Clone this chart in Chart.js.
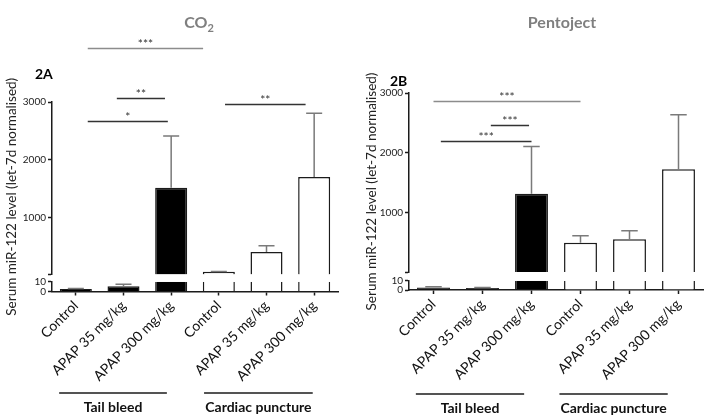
<!DOCTYPE html>
<html>
<head>
<meta charset="utf-8">
<script src="https://cdn.jsdelivr.net/npm/chart.js@4.4.0/dist/chart.umd.min.js"></script>
<style>
  html, body { margin: 0; padding: 0; background: #fff; }
  #wrap { position: relative; width: 708px; height: 415px; overflow: hidden; }
  canvas { position: absolute; top: 0; }
</style>
</head>
<body>
<div id="wrap">
  <canvas id="chartA" width="354" height="415" style="left:0"></canvas>
  <canvas id="chartB" width="354" height="415" style="left:354px"></canvas>
</div>
<script>
// categories (same for both panels)
const categories = ['Control', 'APAP 35 mg/kg', 'APAP 300 mg/kg', 'Control', 'APAP 35 mg/kg', 'APAP 300 mg/kg'];
const groups = ['Tail bleed', 'Cardiac puncture'];
const filled = [true, true, true, false, false, false];
const yTitle = 'Serum miR-122 level (let-7d normalised)';

// CO2 panel (2A): mean and top of error bar
const co2Mean = [2.5, 5.5, 1515, 56, 400, 1700];
const co2Err = [3.2, 7.5, 2410, 62, 510, 2805];
// Pentoject panel (2B)
const pentoMean = [2.8, 2.2, 1315, 500, 555, 1725];
const pentoErr = [3.4, 2.7, 2105, 617, 700, 2635];

// broken y axis: 0-10 below, 10-3000 above
const breakAt = 10;
const upperMax = 3000;
const lowerTicks = [0, 10];
const upperTicks = [10, 1000, 2000, 3000];

// significance: [from category, to category, level, stars]
const co2Sig = [
  [0.25, 2.67, 3940, '***'],
  [0.86, 1.87, 3070, '**'],
  [0.25, 1.93, 2675, '*'],
  [3.13, 4.82, 2960, '**']
];
const pentoSig = [
  [0, 3, 2866, '***'],
  [1.17, 1.95, 2467, '***'],
  [0.15, 2, 2205, '***']
];

Chart.defaults.font.family = 'Lato';

const ink = '#1b1b1b';

function drawPanel(id, cfg) {
  const mean = cfg.mean, err = cfg.err;
  const lowData = mean.map(v => Math.min(v, breakAt));
  const highData = mean.map(v => v > breakAt ? [breakAt, v] : null);
  const fills = filled.map(f => f ? '#000' : '#fff');
  const edge = 1.5;

  const decor = {
    id: 'decor',
    afterDatasetsDraw(chart) {
      const ctx = chart.ctx;
      const xs = chart.scales.x, hi = chart.scales.yHigh, lo = chart.scales.yLow;
      const bars = chart.getDatasetMeta(1).data;
      ctx.save();

      // error bars (upper only, with cap)
      ctx.strokeStyle = cfg.errColor;
      ctx.lineWidth = 1.5;
      mean.forEach((v, i) => {
        const sc = err[i] > breakAt ? hi : lo;
        const x = xs.getPixelForValue(i);
        const y0 = sc.getPixelForValue(v);
        const y1 = sc.getPixelForValue(err[i]);
        const half = bars[i].width / 4;
        ctx.beginPath();
        ctx.moveTo(x, y0); ctx.lineTo(x, y1);
        ctx.moveTo(x - half, y1); ctx.lineTo(x + half, y1);
        ctx.stroke();
      });

      // significance lines
      ctx.lineWidth = 1.3;
      ctx.font = '12px Lato';
      ctx.textAlign = 'center';
      ctx.textBaseline = 'alphabetic';
      cfg.sig.forEach(([a, b, v, label], k) => {
        const y = Math.round(hi.getPixelForValue(v)) + 0.5;
        const xa = xs.getPixelForValue(a), xb = xs.getPixelForValue(b);
        ctx.strokeStyle = cfg.sigColors[k];
        ctx.beginPath(); ctx.moveTo(xa, y); ctx.lineTo(xb, y); ctx.stroke();
        ctx.fillStyle = '#333';
        ctx.fillText(label, (xa + xb) / 2, y - 1);
      });

      // group lines under the category labels
      ctx.strokeStyle = ink;
      ctx.lineWidth = 1.5;
      ctx.font = 'bold 14px Lato';
      ctx.fillStyle = '#111';
      ctx.textBaseline = 'middle';
      groups.forEach((g, k) => {
        const [a, b] = cfg.groupSpan[k];
        const xa = xs.getPixelForValue(a), xb = xs.getPixelForValue(b);
        ctx.beginPath(); ctx.moveTo(xa, cfg.groupLineY); ctx.lineTo(xb, cfg.groupLineY); ctx.stroke();
        ctx.fillText(g, (xa + xb) / 2, cfg.groupTextY);
      });

      // panel title (with subscript part)
      ctx.fillStyle = '#7f7f7f';
      ctx.textAlign = 'left';
      ctx.textBaseline = 'alphabetic';
      ctx.font = 'bold 16px Lato';
      const w1 = ctx.measureText(cfg.title[0]).width;
      ctx.font = 'bold 11px Lato';
      const w2 = cfg.title[1] ? ctx.measureText(cfg.title[1]).width : 0;
      const tx = cfg.titleCx - (w1 + w2) / 2;
      ctx.font = 'bold 16px Lato';
      ctx.fillText(cfg.title[0], tx, 28);
      if (cfg.title[1]) {
        ctx.font = 'bold 11px Lato';
        ctx.fillText(cfg.title[1], tx + w1, 32);
      }

      // panel letter
      ctx.fillStyle = '#000';
      ctx.font = 'bold 14px Lato';
      ctx.fillText(cfg.letter, cfg.letterX, cfg.letterY);

      // y axis title
      ctx.translate(cfg.yTitleX, (hi.top + lo.bottom) / 2);
      ctx.rotate(-Math.PI / 2);
      ctx.font = '13.5px Lato';
      ctx.textAlign = 'center';
      ctx.textBaseline = 'middle';
      ctx.fillStyle = '#222';
      ctx.fillText(yTitle, 0, 0);
      ctx.restore();
    }
  };

  const yCommon = (weight) => ({
    type: 'linear',
    position: 'left',
    stack: 'v',
    stackWeight: weight,
    grid: { drawOnChartArea: false, tickLength: 4, tickColor: ink, tickWidth: 1.5 },
    border: { color: ink, width: 1.5 },
    afterFit: s => { s.width = cfg.axisX; }
  });

  new Chart(document.getElementById(id), {
    type: 'bar',
    data: {
      labels: categories,
      datasets: [
        {
          data: highData,
          yAxisID: 'yHigh',
          grouped: false,
          backgroundColor: fills,
          borderColor: ink,
          borderSkipped: false,
          borderWidth: { top: edge, left: edge, right: edge, bottom: 0 },
          barPercentage: 0.84,
          categoryPercentage: 0.8
        },
        {
          data: lowData,
          yAxisID: 'yLow',
          grouped: false,
          backgroundColor: fills,
          borderColor: ink,
          borderSkipped: false,
          borderWidth: c => ({ top: mean[c.dataIndex] > breakAt ? 0 : edge, left: edge, right: edge, bottom: 0 }),
          barPercentage: 0.84,
          categoryPercentage: 0.8
        }
      ]
    },
    options: {
      responsive: false,
      animation: false,
      devicePixelRatio: 1,
      layout: { padding: { top: cfg.top, bottom: cfg.padBottom, left: 0, right: cfg.padRight } },
      plugins: { legend: { display: false }, tooltip: { enabled: false } },
      scales: {
        x: {
          type: 'category',
          offset: true,
          grid: { drawOnChartArea: false, offset: false, tickLength: 4, tickColor: ink, tickWidth: 1.5 },
          border: { color: ink, width: 1.5 },
          ticks: { autoSkip: false, maxRotation: 45, minRotation: 45, font: { size: 14 }, color: '#111', padding: 2 },
          afterFit: s => { s.height = cfg.xHeight; }
        },
        // left boxes are stacked in reverse order: the last one ends up on top
        yLow: Object.assign(yCommon(cfg.weights[2]), {
          min: 0,
          max: breakAt,
          afterBuildTicks: s => { s.ticks = lowerTicks.map(value => ({ value })); },
          ticks: { autoSkip: false, font: { size: 10 }, color: '#222', padding: 2,
                   callback: v => String(v) }
        }),
        yGap: {
          type: 'linear',
          position: 'left',
          stack: 'v',
          stackWeight: cfg.weights[1],
          display: true,
          grid: { display: false },
          border: { display: false },
          ticks: { display: false },
          afterFit: s => { s.width = cfg.axisX; }
        },
        yHigh: Object.assign(yCommon(cfg.weights[0]), {
          min: breakAt,
          max: upperMax,
          afterBuildTicks: s => { s.ticks = upperTicks.map(value => ({ value })); },
          ticks: { autoSkip: false, font: { size: 10 }, color: '#222', padding: 2,
                   callback: v => v === breakAt ? '' : String(v) }
        })
      }
    },
    plugins: [decor]
  });
}

drawPanel('chartA', {
  mean: co2Mean, err: co2Err, sig: co2Sig,
  sigColors: ['#8c8c8c', '#333', '#333', '#333'],
  errColor: '#7a7a7a',
  title: ['CO', '2'], titleCx: 199,
  letter: '2A', letterX: 35, letterY: 79,
  axisX: 52, top: 102, padBottom: 18.5, padRight: 16,
  weights: [172.5, 7.3, 9.7], xHeight: 105,
  yTitleX: 12,
  groupSpan: [[-0.35, 1.91], [2.69, 4.97]], groupLineY: 393, groupTextY: 407
});

drawPanel('chartB', {
  mean: pentoMean, err: pentoErr, sig: pentoSig,
  sigColors: ['#8c8c8c', '#333', '#333'],
  errColor: '#7a7a7a',
  title: ['Pentoject', ''], titleCx: 208,
  letter: '2B', letterX: 36, letterY: 86,
  axisX: 55, top: 93, padBottom: 20, padRight: 5,
  weights: [179, 8.7, 9.3], xHeight: 105,
  yTitleX: 18,
  groupSpan: [[-0.36, 1.85], [2.57, 4.78]], groupLineY: 394, groupTextY: 408
});
</script>
</body>
</html>
